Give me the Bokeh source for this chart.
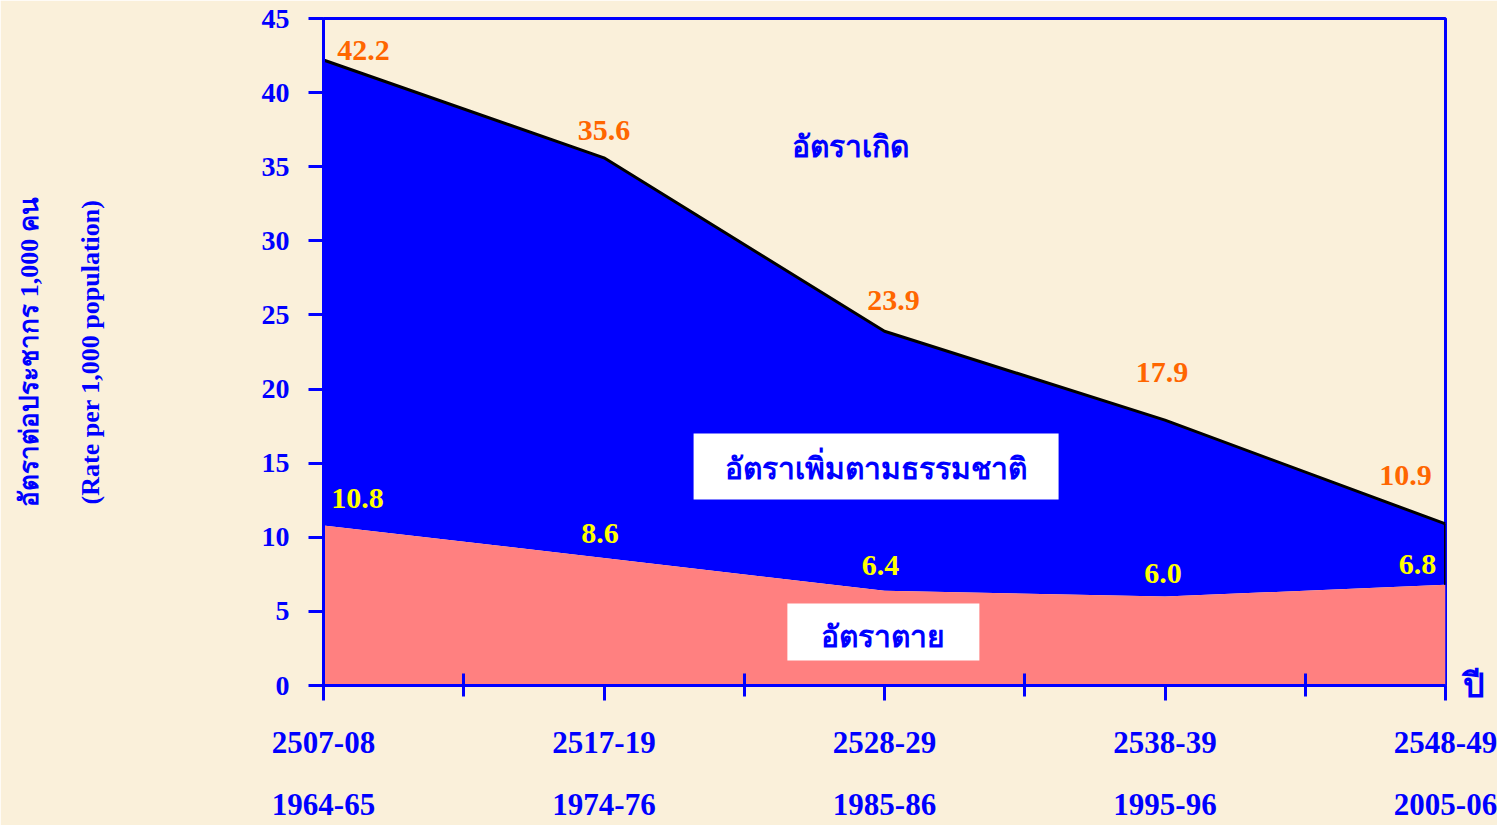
from bokeh.plotting import figure
from bokeh.models import FixedTicker, LinearAxis, Range1d
from bokeh.core.properties import value
from bokeh.embed import file_html
from bokeh.resources import INLINE

# ---- data ----
periods_be = ["2507-08", "2517-19", "2528-29", "2538-39", "2548-49"]
periods_ce = ["1964-65", "1974-76", "1985-86", "1995-96", "2005-06"]
birth_rate = [42.2, 35.6, 23.9, 17.9, 10.9]
death_rate = [10.8, 8.6, 6.4, 6.0, 6.8]
y_ticks = [0, 5, 10, 15, 20, 25, 30, 35, 40, 45]

label_birth = "อัตราเกิด"
label_growth = "อัตราเพิ่มตามธรรมชาติ"
label_death = "อัตราตาย"
y_title_th = "อัตราต่อประชากร 1,000 คน"
y_title_en = "(Rate per 1,000 population)"
x_title = "ปี"

# ---- style ----
BG = "#FAF0DA"
BLUE = "#0000FF"
PINK = "#FF8080"
ORANGE = "#FF6600"
YELLOW = "#FFFF00"
FONT = "Liberation Serif"

xs = list(range(len(periods_be)))

p = figure(frame_width=1122, frame_height=667,
           x_range=Range1d(xs[0], xs[-1]), y_range=Range1d(y_ticks[0], y_ticks[-1]),
           output_backend="svg", toolbar_location=None,
           min_border_left=323, min_border_top=18, min_border_right=52, min_border_bottom=140,
           background_fill_color=BG, border_fill_color=BG,
           outline_line_color=BLUE, outline_line_width=3)
p.grid.visible = False

# areas
p.varea(x=xs, y1=death_rate, y2=birth_rate, fill_color=BLUE)
p.varea(x=xs, y1=[0] * len(xs), y2=death_rate, fill_color=PINK)
p.line(x=xs, y=birth_rate, line_color="black", line_width=3)
p.segment(x0=[xs[-1]], y0=[death_rate[-1]], x1=[xs[-1]], y1=[birth_rate[-1]],
          line_color="black", line_width=3)

# value labels
p.text(x=xs, y=birth_rate, text=[f"{v:.1f}" for v in birth_rate],
       x_offset=[40, 0, 9, -3, -40], y_offset=[-10, -27, -31, -48, -48],
       text_align="center", text_baseline="middle", text_color=ORANGE,
       text_font=value(FONT), text_font_style="bold", text_font_size="30px")
p.text(x=xs, y=death_rate, text=[f"{v:.1f}" for v in death_rate],
       x_offset=[34, -4, -4, -2, -28], y_offset=[-27, -25, -25, -23, -20],
       text_align="center", text_baseline="middle", text_color=YELLOW,
       text_font=value(FONT), text_font_style="bold", text_font_size="30px")

# series name labels
p.text(x=[1.879], y=[36.37], text=[label_birth], text_align="center", text_baseline="middle",
       text_color=BLUE, text_font=value(FONT), text_font_style="bold", text_font_size="30px")
p.rect(x=[1.970], y=[14.78], width=365, height=66, width_units="screen", height_units="screen",
       fill_color="white", line_color=None)
p.text(x=[1.970], y=[14.64], text=[label_growth], text_align="center", text_baseline="middle",
       text_color=BLUE, text_font=value(FONT), text_font_style="bold", text_font_size="30px")
p.rect(x=[1.996], y=[3.61], width=192, height=57, width_units="screen", height_units="screen",
       fill_color="white", line_color=None)
p.text(x=[1.996], y=[3.31], text=[label_death], text_align="center", text_baseline="middle",
       text_color=BLUE, text_font=value(FONT), text_font_style="bold", text_font_size="30px")

# y axis
ya = p.yaxis[0]
ya.ticker = FixedTicker(ticks=y_ticks)
ya.major_tick_out = 15
ya.major_tick_in = 0
ya.minor_tick_line_color = None
ya.major_tick_line_color = BLUE
ya.major_tick_line_width = 3
ya.axis_line_color = BLUE
ya.axis_line_width = 3
ya.major_label_standoff = 19
ya.major_label_text_color = BLUE
ya.major_label_text_font = FONT
ya.major_label_text_font_style = "bold"
ya.major_label_text_font_size = "28px"
ya.axis_label = y_title_en
ya.axis_label_standoff = 154
ya.axis_label_text_color = BLUE
ya.axis_label_text_font = FONT
ya.axis_label_text_font_style = "bold"
ya.axis_label_text_font_size = "26px"

# second left axis carrying the Thai title
ya2 = LinearAxis(ticker=FixedTicker(ticks=[]), axis_line_color=None,
                 major_tick_line_color=None, minor_tick_line_color=None,
                 major_tick_out=0, major_tick_in=0, major_label_standoff=0,
                 axis_label=y_title_th, axis_label_standoff=29,
                 axis_label_text_color=BLUE, axis_label_text_font=FONT,
                 axis_label_text_font_style="bold", axis_label_text_font_size="26px")
p.add_layout(ya2, "left")

# right axis carrying the x title "ปี" at the baseline
ya3 = LinearAxis(ticker=FixedTicker(ticks=[y_ticks[0]]),
                 major_label_overrides={y_ticks[0]: x_title},
                 axis_line_color=None, major_tick_line_color=None, minor_tick_line_color=None,
                 major_tick_out=0, major_tick_in=0, major_label_standoff=17,
                 major_label_text_color=BLUE, major_label_text_font=FONT,
                 major_label_text_font_style="bold", major_label_text_font_size="34px")
p.add_layout(ya3, "right")

# x axis (Buddhist era)
xa = p.xaxis[0]
xa.ticker = FixedTicker(ticks=xs, minor_ticks=[i + 0.5 for i in xs[:-1]])
xa.major_label_overrides = {i: s for i, s in zip(xs, periods_be)}
xa.major_tick_out = 15
xa.major_tick_in = 0
xa.minor_tick_out = 11
xa.minor_tick_in = 12
xa.major_tick_line_color = BLUE
xa.minor_tick_line_color = BLUE
xa.major_tick_line_width = 3
xa.minor_tick_line_width = 3
xa.axis_line_color = BLUE
xa.axis_line_width = 3
xa.major_label_standoff = 31
xa.major_label_text_color = BLUE
xa.major_label_text_font = FONT
xa.major_label_text_font_style = "bold"
xa.major_label_text_font_size = "31px"

# x axis (Common era)
xa2 = LinearAxis(ticker=FixedTicker(ticks=xs),
                 major_label_overrides={i: s for i, s in zip(xs, periods_ce)},
                 axis_line_color=None, major_tick_line_color=None, minor_tick_line_color=None,
                 major_tick_out=0, major_tick_in=0, major_label_standoff=38,
                 major_label_text_color=BLUE, major_label_text_font=FONT,
                 major_label_text_font_style="bold", major_label_text_font_size="31px")
p.add_layout(xa2, "below")

open("out.html", "w").write(file_html(p, INLINE))
